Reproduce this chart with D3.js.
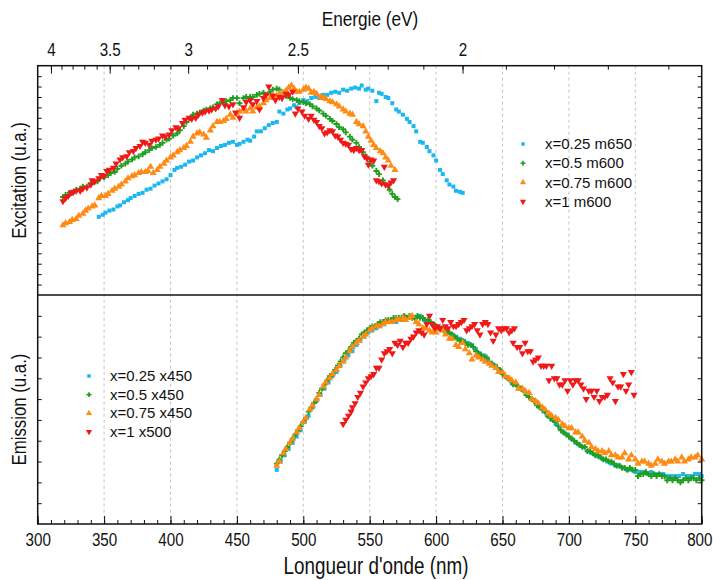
<!DOCTYPE html>
<html><head><meta charset="utf-8">
<script src="https://cdn.jsdelivr.net/npm/d3@7"></script>
<style>
html,body{margin:0;padding:0;background:#fff;}
svg text{font-family:"Liberation Sans",Arial,sans-serif;fill:#111;}
</style></head>
<body><svg id="c" width="713" height="580"></svg>
<script>
// ---------- DATA ----------
const wavelengthTicks = [300,350,400,450,500,550,600,650,700,750,800];
const energyLabels = [4,3.5,3,2.5,2];
const energyTicks = [4.0,3.9,3.8,3.7,3.6,3.5,3.4,3.3,3.2,3.1,3.0,2.9,2.8,2.7,2.6,2.5,2.4,2.3,2.2,2.1,2.0,1.9,1.8,1.7,1.6];
const seriesNames = ["x=0.25","x=0.5","x=0.75","x=1"];
const excLabels = ["x=0.25 m650","x=0.5 m600","x=0.75 m600","x=1 m600"];
const emiLabels = ["x=0.25 x450","x=0.5 x450","x=0.75 x450","x=1 x500"];

// Excitation spectra [wavelength nm, intensity a.u.]
const exc025 = [[346,7.5],[349,7.7],[351,7.9],[354,8.1],[357,8.2],[360,8.5],[362,8.6],[365,8.9],[368,9.1],[370,9.3],[373,9.5],[376,9.7],[379,9.8],[382,10.1],[385,10.2],[388,10.5],[391,10.7],[394,10.9],[397,11.1],[400,11.5],[403,12.0],[405,12.2],[408,12.3],[411,12.5],[414,12.8],[417,12.9],[420,13.2],[423,13.4],[426,13.6],[429,13.9],[432,13.8],[435,14.1],[438,14.3],[441,14.4],[444,14.6],[447,14.7],[450,14.4],[452,14.5],[455,14.7],[458,14.9],[460,14.8],[463,15.2],[465,15.7],[468,15.7],[471,16.0],[474,16.3],[477,16.5],[480,16.6],[482,17.6],[485,17.4],[488,17.8],[490,17.9],[493,18.2],[495,18.0],[497,18.4],[500,18.7],[503,18.6],[506,18.9],[509,19.0],[512,18.9],[515,19.2],[518,19.2],[521,19.4],[524,19.5],[527,19.4],[530,19.7],[533,19.6],[536,19.8],[539,19.9],[542,19.8],[544,20.1],[547,19.7],[549,19.8],[552,19.6],[555,18.6],[557,19.4],[559,19.3],[562,19.0],[564,18.9],[567,18.4],[570,17.8],[572,17.6],[575,17.3],[578,16.9],[580,16.6],[583,16.2],[585,15.7],[588,14.7],[590,14.6],[593,14.2],[595,13.8],[598,13.4],[600,12.9],[603,12.0],[605,11.6],[608,11.0],[610,10.6],[613,10.4],[615,10.0],[618,9.9],[620,9.8]];
const exc050 = [[319,9.4],[321,9.6],[324,9.8],[326,9.8],[329,10.1],[332,10.2],[334,10.4],[337,10.4],[340,10.7],[342,10.8],[345,10.9],[347,11.2],[350,11.3],[353,11.5],[355,11.7],[358,11.8],[360,12.1],[363,12.4],[366,12.6],[368,12.8],[371,13.0],[373,13.2],[376,13.3],[379,13.5],[381,13.7],[384,13.9],[386,14.1],[389,14.2],[392,14.4],[394,14.6],[397,14.9],[399,15.0],[402,15.3],[405,15.5],[407,15.8],[410,16.2],[412,16.6],[415,17.0],[417,17.3],[420,17.4],[422,17.5],[425,17.7],[427,17.8],[430,17.9],[432,18.0],[435,18.3],[437,18.4],[440,18.5],[442,18.6],[445,18.7],[447,18.9],[450,18.9],[452,18.4],[455,18.9],[457,19.0],[460,19.0],[462,19.0],[465,19.2],[467,19.3],[470,19.4],[472,19.2],[475,19.5],[477,19.7],[480,19.8],[482,19.7],[485,19.4],[487,19.1],[490,18.9],[492,18.8],[495,18.7],[497,18.6],[500,18.5],[502,18.4],[505,18.3],[507,18.1],[510,17.9],[512,17.7],[515,17.4],[517,17.2],[520,16.9],[522,16.7],[525,16.4],[527,16.1],[530,15.9],[532,15.6],[535,15.2],[537,14.9],[540,14.6],[542,14.2],[545,13.7],[547,13.3],[550,12.8],[552,12.4],[555,11.9],[557,11.6],[560,11.0],[562,10.6],[565,10.1],[567,9.7],[569,9.4],[571,9.2]];
const exc075 = [[319,6.7],[321,6.9],[324,7.0],[326,7.2],[329,7.3],[331,7.6],[334,7.8],[336,8.1],[338,8.3],[341,8.5],[343,8.6],[346,9.3],[348,9.5],[351,9.5],[353,9.7],[356,10.0],[358,10.2],[361,10.4],[363,10.6],[366,10.9],[368,11.2],[371,11.4],[373,11.5],[376,11.7],[378,11.8],[381,11.8],[383,11.9],[385,12.3],[387,11.7],[390,12.0],[392,12.3],[395,12.6],[397,12.9],[400,13.2],[402,13.4],[405,13.7],[407,13.9],[410,14.1],[412,14.3],[415,14.7],[417,15.2],[420,15.5],[422,15.6],[425,15.4],[427,15.1],[430,15.8],[432,16.2],[435,16.6],[437,16.6],[440,16.7],[442,16.9],[445,17.3],[447,17.0],[450,17.4],[452,17.6],[455,17.8],[457,17.6],[460,17.9],[462,17.6],[465,18.0],[467,18.1],[470,18.4],[472,18.7],[475,18.9],[477,19.2],[480,19.1],[482,19.3],[485,19.4],[487,19.6],[489,19.9],[491,20.1],[493,19.8],[495,19.5],[497,19.5],[500,19.7],[502,19.9],[504,19.8],[506,19.4],[508,19.5],[510,19.3],[513,19.0],[515,18.9],[517,18.8],[520,18.6],[522,18.5],[525,18.3],[527,18.1],[530,17.8],[532,17.6],[535,17.4],[537,17.3],[540,16.6],[542,16.4],[545,16.2],[547,15.7],[549,15.2],[551,14.8],[553,14.4],[555,14.1],[558,13.8],[560,13.6],[562,13.2],[564,12.9],[566,12.4],[569,12.0]];
const exc100 = [[319,9.0],[321,9.3],[323,9.5],[325,9.8],[327,9.9],[329,10.0],[332,10.0],[334,10.2],[337,10.3],[340,10.6],[341,11.0],[343,10.9],[346,11.2],[348,11.5],[350,11.4],[352,11.9],[354,12.0],[357,12.2],[359,12.6],[362,13.0],[364,13.2],[367,13.3],[369,13.7],[372,13.8],[374,14.1],[377,14.3],[379,14.7],[381,14.6],[384,14.4],[386,14.8],[389,14.9],[391,15.0],[394,15.3],[396,15.2],[399,15.4],[401,15.8],[404,16.1],[406,16.0],[409,16.5],[411,16.8],[414,17.0],[416,16.9],[419,17.0],[421,17.3],[424,17.5],[426,17.6],[429,17.7],[431,17.8],[434,17.9],[436,18.1],[439,18.7],[441,18.2],[444,18.1],[447,18.3],[449,17.5],[452,17.0],[455,18.0],[457,18.5],[460,18.7],[462,18.3],[465,18.6],[467,17.8],[470,18.9],[472,19.2],[474,20.0],[477,19.1],[479,18.7],[482,19.0],[484,18.9],[487,19.3],[489,19.2],[492,19.5],[494,17.4],[496,17.9],[499,17.6],[501,17.2],[504,16.9],[506,17.2],[508,16.8],[510,16.6],[512,16.2],[514,16.0],[516,15.5],[518,15.6],[520,15.8],[522,15.7],[524,15.3],[526,15.2],[528,14.9],[530,14.6],[532,14.5],[534,14.4],[536,14.0],[538,13.9],[540,14.1],[542,13.9],[544,13.9],[546,13.3],[548,13.1],[549,12.5],[551,13.0],[553,12.9],[555,11.0],[557,10.9],[559,10.7],[561,12.3],[562,10.6],[564,10.5],[566,10.8],[568,11.0]];

// Emission spectra [wavelength nm, intensity a.u.]
const emi025 = [[480,2.6],[483,3.0],[486,3.3],[489,3.6],[492,3.9],[495,4.2],[498,4.5],[501,4.9],[504,5.2],[507,5.6],[510,5.9],[513,6.2],[516,6.5],[519,6.8],[522,7.1],[525,7.3],[528,7.6],[531,7.9],[534,8.1],[537,8.3],[540,8.6],[543,8.8],[546,9.0],[549,9.2],[552,9.3],[555,9.4],[558,9.5],[561,9.6],[564,9.7],[567,9.7],[570,9.7],[573,9.8],[576,9.8],[579,9.9],[582,9.9],[585,9.9],[588,10.0],[591,9.8],[594,9.7],[597,9.6],[600,9.5],[603,9.4],[606,9.3],[609,9.2],[612,9.1],[615,9.0],[618,8.9],[621,8.8],[624,8.7],[627,8.6],[630,8.4],[633,8.2],[636,8.1],[639,7.9],[642,7.7],[645,7.6],[648,7.4],[651,7.2],[654,7.0],[657,6.8],[660,6.7],[663,6.5],[666,6.4],[669,6.2],[672,6.0],[675,5.8],[678,5.6],[681,5.4],[684,5.2],[687,5.0],[690,4.8],[693,4.6],[696,4.4],[699,4.3],[702,4.1],[705,3.9],[708,3.8],[711,3.7],[714,3.5],[717,3.4],[720,3.3],[723,3.2],[726,3.1],[729,3.0],[732,2.9],[735,2.8],[738,2.8],[741,2.7],[744,2.6],[747,2.6],[750,2.5],[753,2.5],[756,2.5],[759,2.4],[762,2.5],[765,2.4],[768,2.4],[771,2.4],[774,2.3],[777,2.3],[780,2.3],[783,2.3],[786,2.4],[789,2.3],[792,2.3],[795,2.4],[798,2.4],[800,2.3]];
const emi050 = [[480,2.9],[482,3.1],[484,3.3],[486,3.5],[488,3.7],[490,3.9],[492,4.1],[494,4.3],[496,4.5],[498,4.7],[500,4.9],[502,5.1],[504,5.4],[506,5.6],[508,5.8],[510,6.0],[512,6.3],[514,6.5],[516,6.7],[518,6.9],[520,7.1],[522,7.2],[524,7.4],[526,7.6],[528,7.8],[530,8.0],[532,8.2],[534,8.3],[536,8.5],[538,8.7],[540,8.8],[542,8.9],[544,9.1],[546,9.2],[548,9.3],[550,9.4],[552,9.5],[554,9.5],[556,9.6],[558,9.7],[560,9.7],[562,9.8],[564,9.8],[566,9.8],[568,9.9],[570,9.9],[572,9.9],[574,9.9],[576,10.0],[578,9.9],[580,10.0],[582,9.9],[584,9.9],[586,10.0],[588,9.9],[590,9.9],[592,9.8],[594,9.8],[596,9.7],[598,9.6],[600,9.5],[602,9.4],[604,9.4],[606,9.3],[608,9.2],[610,9.2],[612,9.1],[614,9.0],[616,8.9],[618,8.8],[620,8.8],[622,8.7],[624,8.6],[626,8.6],[628,8.5],[630,8.3],[632,8.2],[634,8.1],[636,8.0],[638,8.0],[640,7.8],[642,7.7],[644,7.6],[646,7.5],[648,7.4],[650,7.2],[652,7.1],[654,7.0],[656,6.9],[658,6.7],[660,6.7],[662,6.6],[664,6.5],[666,6.4],[668,6.2],[670,6.1],[672,6.0],[674,5.9],[676,5.7],[678,5.6],[680,5.5],[682,5.4],[684,5.2],[686,5.1],[688,5.0],[690,4.9],[692,4.7],[694,4.5],[696,4.4],[698,4.3],[700,4.2],[702,4.1],[704,4.0],[706,3.9],[708,3.8],[710,3.7],[712,3.7],[714,3.5],[716,3.5],[718,3.4],[720,3.3],[722,3.3],[724,3.2],[726,3.1],[728,3.1],[730,3.0],[732,3.0],[734,2.9],[736,2.8],[738,2.8],[740,2.7],[742,2.7],[744,2.6],[746,2.7],[748,2.6],[750,2.6],[752,2.3],[754,2.4],[756,2.4],[758,2.5],[760,2.4],[762,2.3],[764,2.4],[766,2.3],[768,2.4],[770,2.3],[772,2.3],[774,2.1],[776,2.2],[778,2.1],[780,2.2],[782,2.1],[784,2.0],[786,2.1],[788,2.2],[790,2.1],[792,2.2],[794,2.2],[796,2.1],[798,2.2],[800,2.1]];
const emi075 = [[480,2.8],[482,3.0],[485,3.4],[487,3.6],[490,3.9],[492,4.1],[495,4.4],[497,4.6],[500,4.9],[502,5.1],[505,5.5],[507,5.7],[510,6.0],[512,6.2],[515,6.6],[517,6.8],[520,7.0],[522,7.2],[525,7.4],[527,7.6],[530,7.8],[532,8.0],[535,8.3],[537,8.5],[540,8.7],[542,8.8],[545,9.0],[547,9.1],[550,9.3],[552,9.4],[555,9.5],[557,9.5],[560,9.6],[562,9.7],[565,9.7],[567,9.7],[570,9.8],[572,9.8],[575,9.9],[577,9.8],[580,9.9],[582,10.0],[585,9.7],[587,9.6],[590,9.4],[592,9.4],[595,9.3],[597,9.2],[600,9.2],[602,9.4],[605,9.3],[607,9.1],[610,8.9],[612,8.9],[615,8.6],[617,8.5],[620,8.7],[622,8.4],[625,8.2],[627,7.9],[630,8.1],[632,8.0],[635,7.9],[637,7.8],[640,7.7],[642,7.6],[645,7.5],[647,7.3],[650,7.3],[652,7.1],[655,7.0],[657,6.9],[660,6.8],[662,6.5],[665,6.5],[667,6.4],[670,6.3],[672,6.0],[675,5.9],[677,5.8],[680,5.6],[682,5.5],[685,5.3],[687,5.2],[690,5.1],[692,5.0],[695,4.8],[697,4.7],[700,4.6],[702,4.6],[705,4.4],[707,4.4],[710,4.2],[712,4.0],[715,3.9],[717,3.7],[720,3.6],[722,3.5],[725,3.5],[727,3.4],[730,3.5],[732,3.3],[735,3.3],[737,3.2],[740,3.2],[742,3.4],[745,3.1],[747,3.3],[750,3.1],[752,2.9],[755,3.0],[757,3.0],[760,2.9],[762,2.8],[765,2.9],[767,3.1],[770,3.0],[772,2.9],[775,3.0],[777,3.0],[780,3.1],[782,3.0],[785,3.2],[787,3.0],[790,3.1],[792,3.2],[795,3.2],[797,3.3],[800,3.1]];
const emi100 = [[530,4.8],[532,5.0],[534,5.2],[536,5.4],[537,5.6],[539,5.8],[541,6.1],[543,6.3],[545,6.6],[547,6.8],[549,7.0],[551,7.1],[553,7.2],[555,7.5],[557,7.5],[559,7.9],[561,8.2],[563,8.3],[565,8.4],[567,8.2],[569,8.7],[571,8.6],[573,8.8],[575,8.5],[577,8.7],[579,8.7],[581,8.9],[583,9.0],[585,9.2],[587,9.3],[589,9.2],[591,9.1],[593,9.6],[595,10.0],[597,9.6],[599,9.4],[601,9.5],[603,9.4],[605,9.8],[607,9.5],[609,9.4],[611,9.7],[613,9.5],[615,9.5],[617,9.6],[619,9.7],[621,9.8],[623,9.3],[625,9.4],[627,9.5],[629,9.6],[631,9.3],[633,9.1],[635,9.6],[637,9.7],[639,9.6],[641,9.2],[643,8.8],[645,9.1],[647,9.4],[649,9.3],[651,9.4],[653,9.4],[655,9.2],[657,9.3],[658,8.7],[659,9.4],[661,8.5],[663,8.5],[665,8.2],[667,8.7],[669,8.3],[671,8.3],[673,7.8],[675,7.9],[677,8.0],[679,7.6],[681,7.6],[683,7.6],[685,6.9],[687,7.6],[689,7.0],[691,7.0],[693,6.7],[695,6.7],[697,6.9],[699,6.4],[701,6.9],[703,6.7],[705,6.9],[707,6.9],[709,6.7],[711,6.5],[713,6.0],[715,6.4],[717,6.4],[719,6.1],[721,6.4],[723,5.9],[725,6.1],[727,6.1],[729,6.2],[731,7.0],[733,6.8],[735,5.9],[737,6.6],[739,6.6],[741,7.2],[743,6.4],[745,6.7],[747,7.3],[749,6.2]];

// ---------- STYLE ----------
const colors = ["#1cb7f0","#1f9e1f","#ff8a14","#f01818"];
const shapes = [d3.symbolSquare, d3.symbolCross, d3.symbolTriangle, d3.symbolTriangle];
const sizes = [16, 18, 22, 22];
const rot = [0, 0, 0, 180];
const NARROW = 0.8;

const svg = d3.select("#c");
const L = 37.7, R = 701.7, T = 65.7, M = 295, B = 524;
const x = d3.scaleLinear().domain([300,800]).range([L,R]);
const yTop = d3.scaleLinear().domain([0,22]).range([M,T]);
const yBot = d3.scaleLinear().domain([0,11]).range([B,M]);
const hc = 1239.84;

// grid
svg.append("g").selectAll("line").data(wavelengthTicks.slice(1,-1)).join("line")
  .attr("x1",d=>x(d)).attr("x2",d=>x(d)).attr("y1",T).attr("y2",B)
  .attr("stroke","#c4c4c4").attr("stroke-width",1).attr("stroke-dasharray","3,3");

function plot(data, yS, i){
  const sym = d3.symbol().type(shapes[i]).size(sizes[i]);
  svg.append("g").selectAll("path").data(data).join("path")
    .attr("d", sym)
    .attr("transform", d=>`translate(${x(d[0])},${yS(d[1])}) rotate(${rot[i]})`)
    .attr("fill", colors[i]);
}
[exc025,exc050,exc075,exc100].forEach((d,i)=>plot(d,yTop,i));
[emi025,emi050,emi075,emi100].forEach((d,i)=>plot(d,yBot,i));

// axes
function clean(g){ g.select(".domain").remove(); g.selectAll("line").attr("stroke","#111"); }
function narrowText(g){ g.selectAll("text").attr("font-size",19).attr("transform",`scale(${NARROW},1)`); }
// bottom
svg.append("g").attr("transform",`translate(0,${B})`)
  .call(d3.axisBottom(x).tickValues(d3.range(300,801,10)).tickSizeInner(-4).tickSizeOuter(0).tickFormat(""))
  .call(clean);
svg.append("g").attr("transform",`translate(0,${B})`)
  .call(d3.axisBottom(x).tickValues(wavelengthTicks).tickSizeInner(-8).tickSizeOuter(0).tickPadding(9).tickFormat(d3.format("d")))
  .call(clean).call(narrowText)
  .call(g=>g.selectAll("text").filter(d=>d===800).attr("dx",-3));
// top (energy)
svg.append("g").attr("transform",`translate(0,${T})`)
  .call(d3.axisTop(x).tickValues(energyTicks.map(e=>hc/e)).tickSizeInner(-4).tickSizeOuter(0).tickFormat(""))
  .call(clean);
svg.append("g").attr("transform",`translate(0,${T})`)
  .call(d3.axisTop(x).tickValues(energyLabels.map(e=>hc/e)).tickSizeInner(-8).tickSizeOuter(0).tickPadding(10)
     .tickFormat(v=>{const e=Math.round(hc/v*10)/10; return String(e);}))
  .call(clean).call(narrowText);
// left / right
function yAx(axisFn, xpos, yS, n){
  svg.append("g").attr("transform",`translate(${xpos},0)`)
    .call(axisFn(yS).tickValues(d3.range(1,n)).tickSizeInner(-4).tickSizeOuter(0).tickFormat(""))
    .call(clean);
}
yAx(d3.axisLeft, L, yTop, 22); yAx(d3.axisRight, R, yTop, 22);
yAx(d3.axisLeft, L, yBot, 11); yAx(d3.axisRight, R, yBot, 11);

// frame
svg.append("rect").attr("x",L).attr("y",T).attr("width",R-L).attr("height",B-T)
  .attr("fill","none").attr("stroke","#111").attr("stroke-width",1.5);
svg.append("line").attr("x1",L).attr("x2",R).attr("y1",M).attr("y2",M)
  .attr("stroke","#111").attr("stroke-width",1.5);

// titles
svg.append("text").attr("transform",`translate(${376},574) scale(0.82,1)`).attr("text-anchor","middle").attr("font-size",23).text("Longueur d'onde (nm)");
svg.append("text").attr("transform",`translate(370,26) scale(0.82,1)`).attr("text-anchor","middle").attr("font-size",21).text("Energie (eV)");
svg.append("text").attr("transform",`translate(26,${(T+M)/2}) rotate(-90) scale(0.84,1)`).attr("text-anchor","middle").attr("font-size",20).text("Excitation (u.a.)");
svg.append("text").attr("transform",`translate(26,${(M+B)/2}) rotate(-90) scale(0.84,1)`).attr("text-anchor","middle").attr("font-size",20).text("Emission (u.a.)");

// legends
function legend(labels, mx, tx, y0, dy){
  const g = svg.append("g").attr("class","leg");
  labels.forEach((lab,i)=>{
    const yy = y0 + i*dy;
    g.append("path").attr("d", d3.symbol().type(shapes[i]).size(sizes[i]*0.75))
      .attr("transform",`translate(${mx},${yy}) rotate(${rot[i]})`).attr("fill",colors[i]);
    g.append("text").attr("x",tx).attr("y",yy).attr("dy","0.35em").attr("font-size",15).text(lab);
  });
}
legend(excLabels, 523, 545, 144, 19.2);
legend(emiLabels, 89, 110, 376, 18.6);
</script></body></html>
